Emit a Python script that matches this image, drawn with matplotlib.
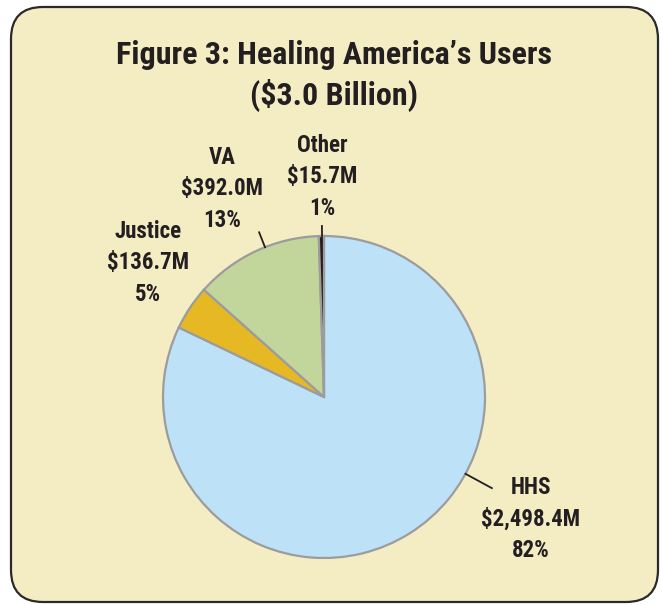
import numpy as np
import matplotlib.pyplot as plt
from matplotlib.patches import FancyBboxPatch

plt.rcParams['font.family'] = ['Roboto Condensed', 'DejaVu Sans']

labels = ["HHS", "Justice", "VA", "Other"]
amounts = [2498.4, 136.7, 392.0, 15.7]
amount_text = ["$2,498.4M", "$136.7M", "$392.0M", "$15.7M"]
pct_text = ["82%", "5%", "13%", "1%"]
colors = ["#bde1f7", "#e6b824", "#c2d59b", "#2b1b1b"]

W, H = 662, 605
fig = plt.figure(figsize=(6.62, 6.05), dpi=100)
fig.patch.set_facecolor("white")

# axes covers the whole figure, one data unit = one pixel
ax = fig.add_axes([0, 0, 1, 1])
ax.axis("off")

ax.add_patch(FancyBboxPatch((11, 3), 647, 595, boxstyle="round,pad=0,rounding_size=32",
                            facecolor="#f4edc4", edgecolor="#2a2a2a",
                            linewidth=1.6, zorder=0))

cx, cy, r = 324, H - 397, 161
wedges, _ = ax.pie(amounts, colors=colors, startangle=90, counterclock=False,
                   center=(cx, cy), radius=r,
                   wedgeprops=dict(edgecolor="#9c9c9c", linewidth=1.6, zorder=2))
ax.set_xlim(0, W)
ax.set_ylim(0, H)
ax.set_aspect("equal")

ax.text(334, H - 55, "Figure 3: Healing America\u2019s Users", ha="center", va="center",
        fontsize=23, fontweight="bold", color="#231f20")
ax.text(334, H - 95, "($3.0 Billion)", ha="center", va="center",
        fontsize=23, fontweight="bold", color="#231f20")

# label block centres (pixels from top) and leader line angles
label_pos = [(531, 519), (148, 263), (222, 189), (322, 177)]
leader = [(-28.5, 161, 191), None, (111.5, 161, 177), (90.7, 161, 171)]

for i in range(len(labels)):
    x, y = label_pos[i]
    ax.text(x, H - y, labels[i] + "\n" + amount_text[i] + "\n" + pct_text[i],
            ha="center", va="center", fontsize=16.5, fontweight="bold",
            color="#231f20", linespacing=1.45)
    if leader[i] is not None:
        a, r0, r1 = leader[i]
        t = np.deg2rad(a)
        ax.plot([cx + r0 * np.cos(t), cx + r1 * np.cos(t)],
                [cy + r0 * np.sin(t), cy + r1 * np.sin(t)],
                color="#231f20", linewidth=1.3)

fig.savefig("out.png", dpi=100)
